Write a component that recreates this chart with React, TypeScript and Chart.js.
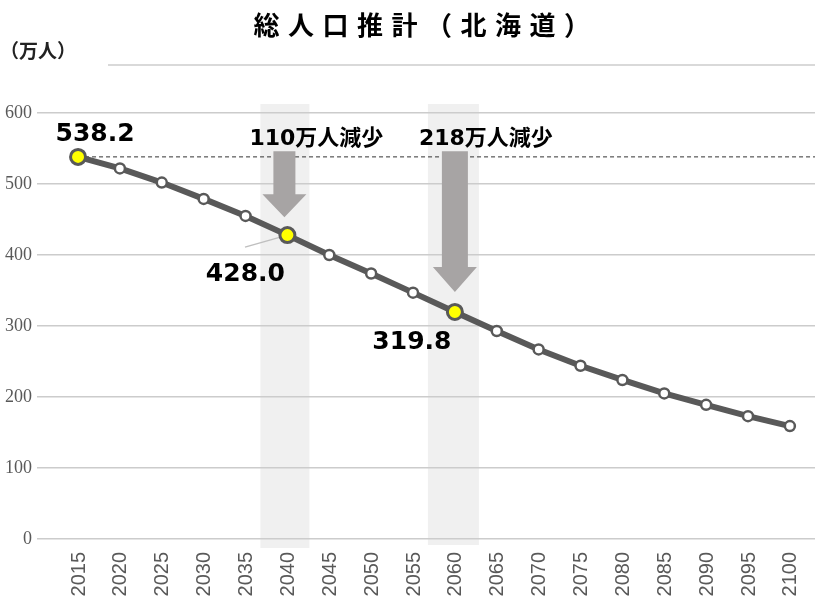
import React, { useEffect, useRef } from 'react';
import { Chart, registerables } from 'chart.js';

Chart.register(...registerables);

const titleText = '総人口推計（北海道）';
const unitText = '（万人）';
const years = [2015, 2020, 2025, 2030, 2035, 2040, 2045, 2050, 2055, 2060, 2065, 2070, 2075, 2080, 2085, 2090, 2095, 2100];
const population = [538.2, 522, 502, 479, 455, 428.0, 400, 374, 347, 319.8, 293, 267, 244, 224, 205, 189, 173, 159];
const yTicks = [0, 100, 200, 300, 400, 500, 600];
const highlightYears = [2015, 2040, 2060];
const highlightLabels = ['538.2', '428.0', '319.8'];
const decreaseYears = [2040, 2060];
const decreaseLabels = ['110万人減少', '218万人減少'];
const arrowTopValue = 546;
const arrowTipValues = [453, 348];

const LINE = '#595959';
const ARROW = '#a7a4a4';

const annotationPlugin = {
  id: 'annotations',
  beforeDraw(chart: any) {
    const { ctx, chartArea, scales } = chart;
    const x = scales.x;
    ctx.save();
    ctx.fillStyle = '#f0f0f0';
    decreaseYears.forEach((yr, i) => {
      const cx = x.getPixelForValue(yr);
      const bottom = i === 0 ? chartArea.bottom + 9 : chartArea.bottom + 6;
      ctx.fillRect(cx - 27, chartArea.top - 9, 49 + i * 2, bottom - (chartArea.top - 9));
    });
    ctx.strokeStyle = '#d9d9d9';
    ctx.lineWidth = 2;
    ctx.beginPath();
    ctx.moveTo(108, 65);
    ctx.lineTo(chartArea.right, 65);
    ctx.stroke();
    ctx.fillStyle = '#000';
    ctx.font = "bold 26px 'Noto Sans CJK JP'";
    ctx.textAlign = 'center';
    ctx.textBaseline = 'middle';
    (ctx as any).letterSpacing = '8.5px';
    ctx.fillText(titleText, 426, 25);
    (ctx as any).letterSpacing = '0px';
    ctx.font = "bold 19px 'Noto Sans CJK JP'";
    ctx.fillStyle = '#222';
    ctx.textAlign = 'left';
    ctx.fillText(unitText, 0, 51);
    // x-axis year labels, rotated, positioned by the x scale
    ctx.font = "20px 'Liberation Sans'";
    ctx.fillStyle = '#595959';
    ctx.textAlign = 'right';
    ctx.textBaseline = 'middle';
    years.forEach((yr) => {
      ctx.save();
      ctx.translate(x.getPixelForValue(yr), chartArea.bottom + 13);
      ctx.rotate(-Math.PI / 2);
      ctx.fillText(String(yr), 0, 1);
      ctx.restore();
    });
    ctx.restore();
  },
  beforeDatasetsDraw(chart: any) {
    const { ctx, chartArea, scales } = chart;
    const x = scales.x;
    const y = scales.y;
    ctx.save();
    const y0 = y.getPixelForValue(population[0]);
    ctx.strokeStyle = '#333';
    ctx.lineWidth = 1;
    ctx.setLineDash([4, 3]);
    ctx.beginPath();
    ctx.moveTo(x.getPixelForValue(years[0]), y0);
    ctx.lineTo(chartArea.right, y0);
    ctx.stroke();
    ctx.setLineDash([]);
    ctx.fillStyle = ARROW;
    decreaseYears.forEach((yr, i) => {
      const cx = x.getPixelForValue(yr) - (i === 0 ? 3 : 0);
      const top = y.getPixelForValue(arrowTopValue);
      const tip = y.getPixelForValue(arrowTipValues[i]);
      const headH = i === 0 ? 23 : 25;
      const shaftW = i === 0 ? 22 : 26;
      const headW = 44;
      ctx.beginPath();
      ctx.moveTo(cx - shaftW / 2, top);
      ctx.lineTo(cx + shaftW / 2, top);
      ctx.lineTo(cx + shaftW / 2, tip - headH);
      ctx.lineTo(cx + headW / 2, tip - headH);
      ctx.lineTo(cx, tip);
      ctx.lineTo(cx - headW / 2, tip - headH);
      ctx.lineTo(cx - shaftW / 2, tip - headH);
      ctx.closePath();
      ctx.fill();
    });
    const px = x.getPixelForValue(2040);
    const py = y.getPixelForValue(population[years.indexOf(2040)]);
    ctx.strokeStyle = '#bfbfbf';
    ctx.lineWidth = 1.5;
    ctx.beginPath();
    ctx.moveTo(245, py + 12);
    ctx.lineTo(px, py);
    ctx.stroke();
    ctx.restore();
  },
  afterDatasetsDraw(chart: any) {
    const { ctx, scales } = chart;
    const x = scales.x;
    const y = scales.y;
    ctx.save();
    ctx.fillStyle = '#000';
    ctx.textAlign = 'center';
    ctx.textBaseline = 'middle';
    ctx.font = "bold 25px 'DejaVu Sans'";
    const offsets = [[17, -22], [-42, 39], [-43, 31]];
    highlightYears.forEach((yr, i) => {
      const px = x.getPixelForValue(yr);
      const py = y.getPixelForValue(population[years.indexOf(yr)]);
      ctx.fillText(highlightLabels[i], px + offsets[i][0], py + offsets[i][1]);
    });
    ctx.font = "bold 22px 'DejaVu Sans', 'Noto Sans CJK JP'";
    const lx = [29, 31];
    decreaseYears.forEach((yr, i) => {
      const px = x.getPixelForValue(yr);
      ctx.fillText(decreaseLabels[i], px + lx[i], y.getPixelForValue(arrowTopValue) - 12);
    });
    ctx.restore();
  },
};

export default function App() {
  const ref = useRef<HTMLCanvasElement | null>(null);
  useEffect(() => {
    document.body.style.margin = '0';
    if (!ref.current) return;
    const isHi = (yr: number) => highlightYears.includes(yr);
    const chart = new Chart(ref.current, {
      type: 'line',
      data: {
        datasets: [
          {
            data: years.map((yr, i) => ({ x: yr, y: population[i] })),
            borderColor: LINE,
            borderWidth: 6,
            pointBackgroundColor: years.map((yr) => (isHi(yr) ? '#ffff00' : '#ffffff')),
            pointBorderColor: LINE,
            pointBorderWidth: years.map((yr) => (isHi(yr) ? 3 : 2.5)),
            pointRadius: years.map((yr) => (isHi(yr) ? 7.5 : 5)),
            tension: 0,
            clip: false,
          },
        ],
      },
      options: {
        animation: false,
        responsive: false,
        layout: { autoPadding: false, padding: { top: 113, right: 5, left: 0, bottom: 0 } },
        plugins: { legend: { display: false }, tooltip: { enabled: false }, title: { display: false } },
        scales: {
          x: {
            type: 'linear',
            min: 2010.1,
            max: 2103,
            grid: { display: false },
            border: { display: false },
            afterBuildTicks: (scale: any) => {
              scale.ticks = years.map((v) => ({ value: v }));
            },
            afterFit: (scale: any) => {
              scale.height = 69;
            },
            ticks: { display: false },
          },
          y: {
            min: 0,
            max: 600,
            afterBuildTicks: (scale: any) => {
              scale.ticks = yTicks.map((v) => ({ value: v }));
            },
            afterFit: (scale: any) => {
              scale.width = 37;
            },
            grid: { color: '#cccccc', lineWidth: 1.5, drawTicks: false },
            border: { display: false },
            ticks: {
              padding: 5,
              color: '#595959',
              font: { family: "'Liberation Serif'", size: 18 },
              callback: (v: any) => String(v),
            },
          },
        },
      },
      plugins: [annotationPlugin],
    });
    return () => chart.destroy();
  }, []);
  return (
    <div style={{ width: 820, height: 608 }}>
      <canvas ref={ref} width={820} height={608} />
    </div>
  );
}
